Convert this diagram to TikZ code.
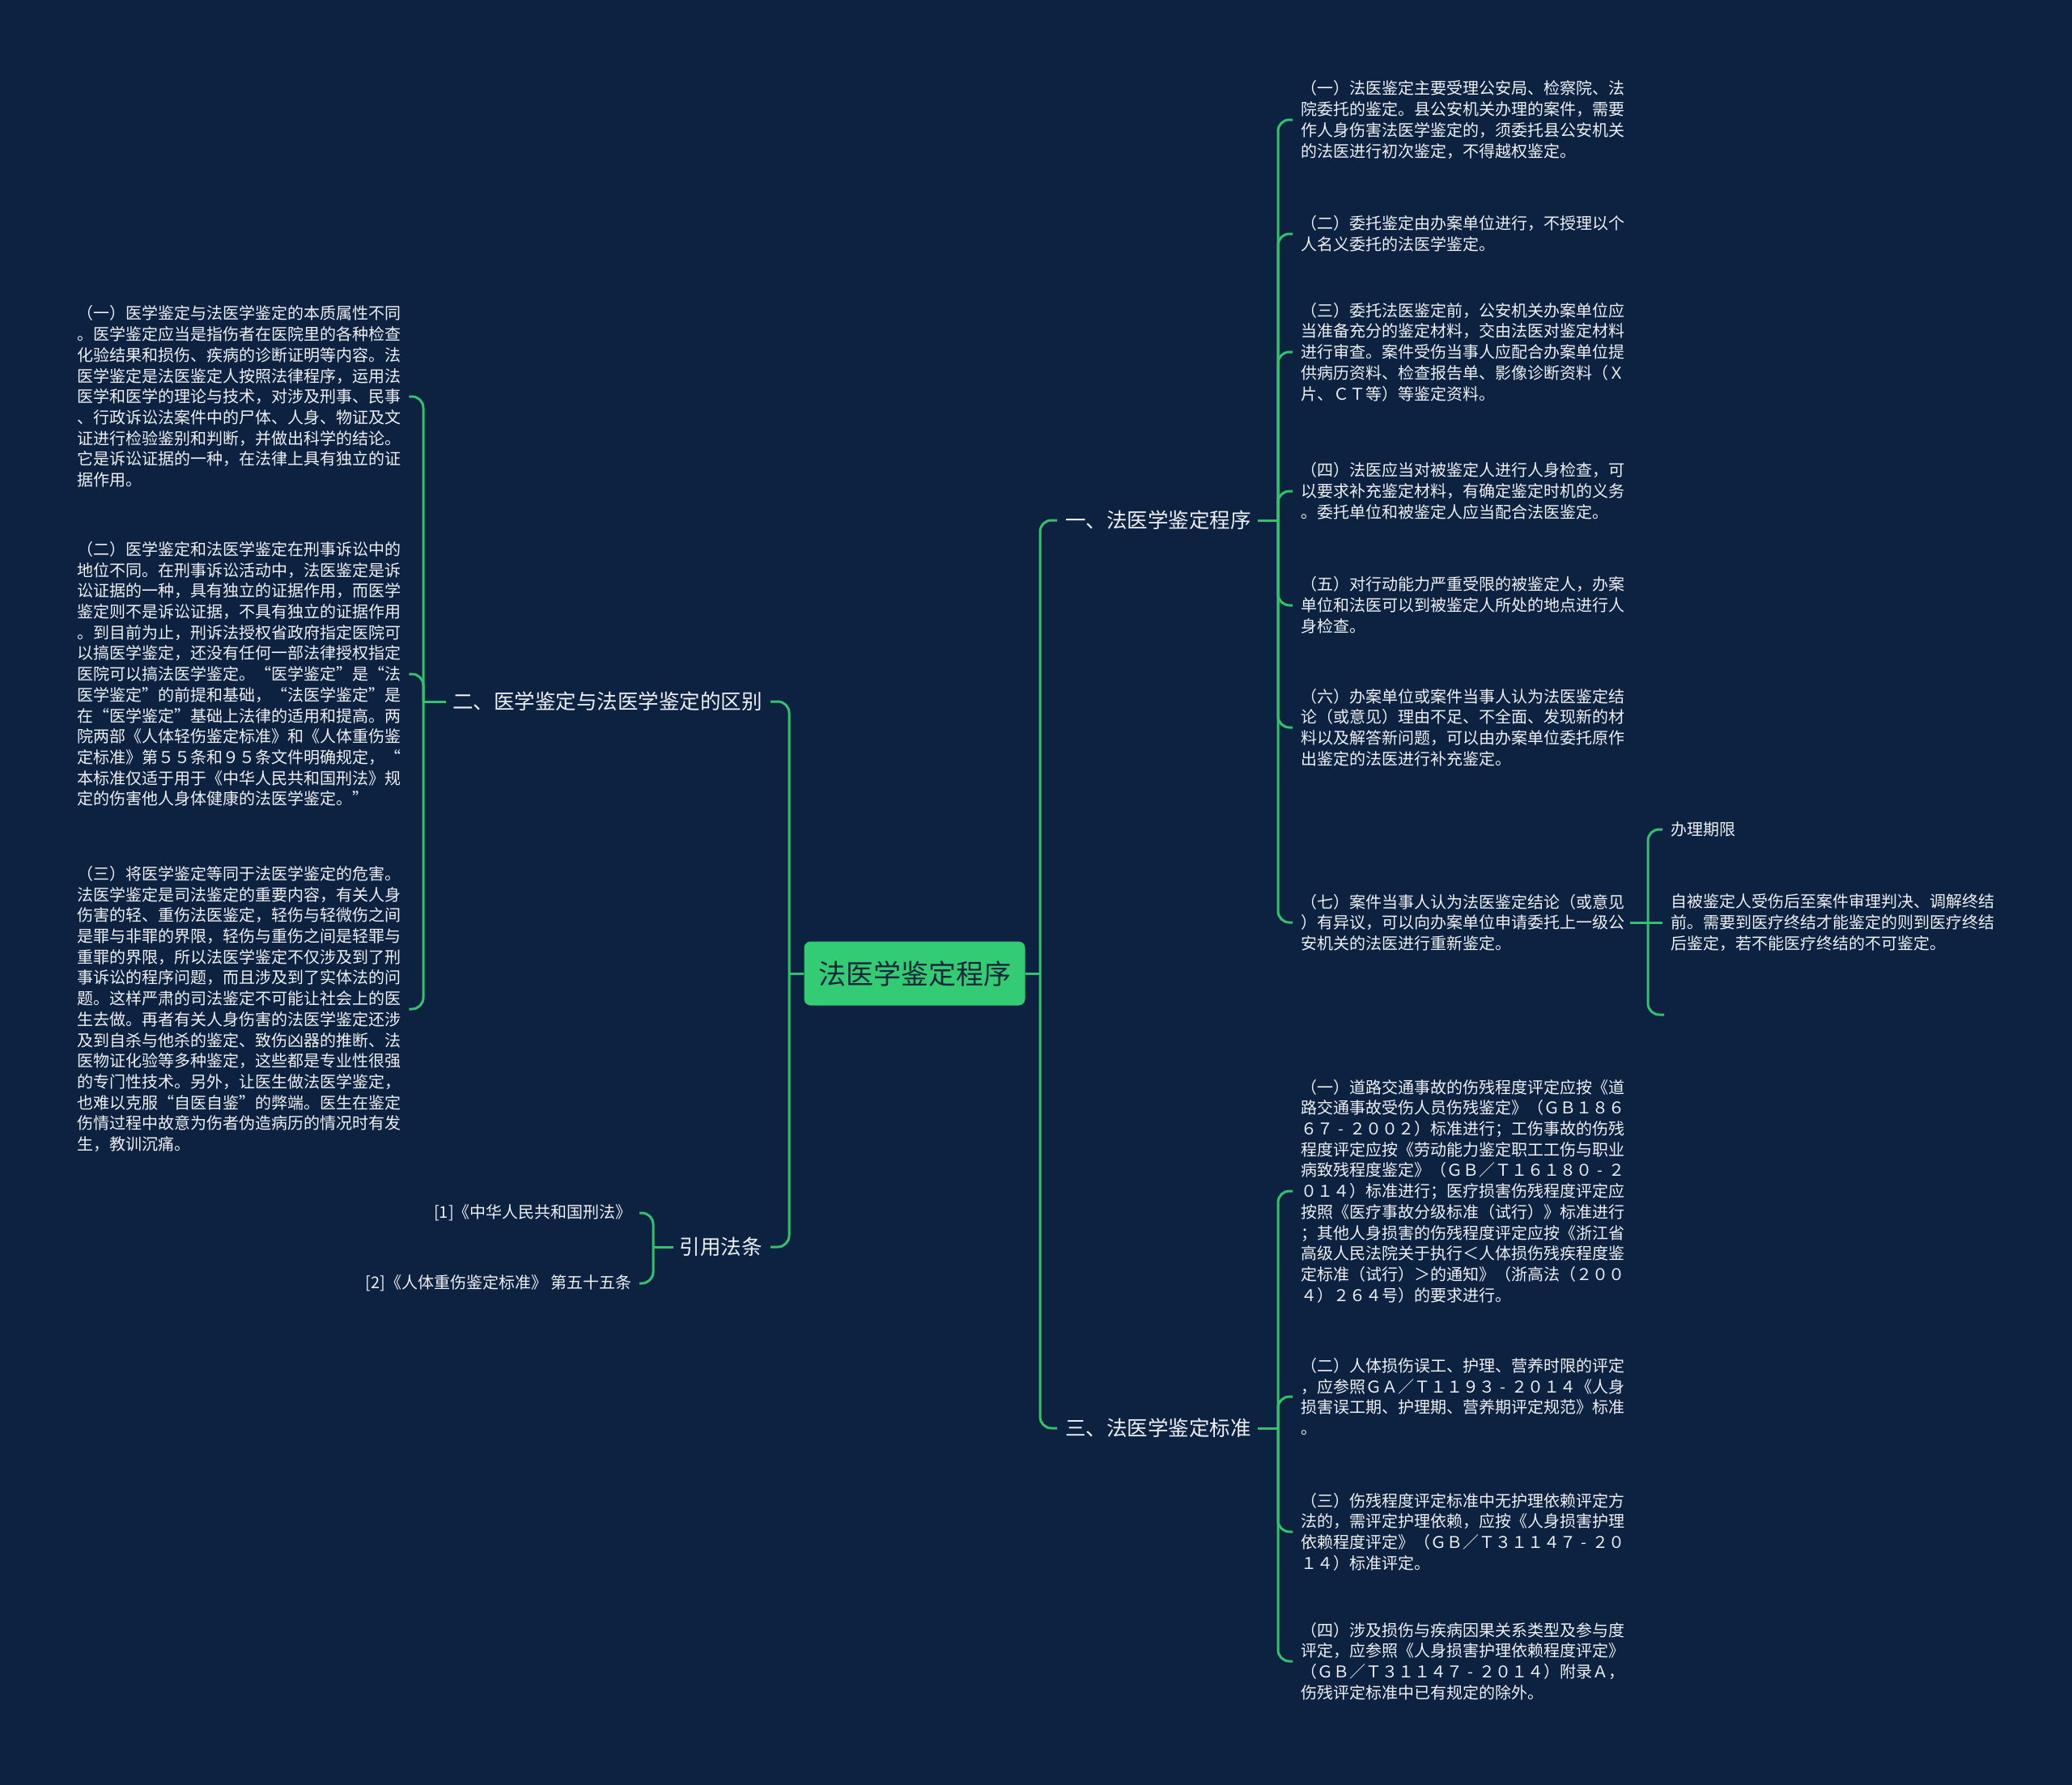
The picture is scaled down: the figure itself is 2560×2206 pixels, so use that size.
\documentclass[tikz,border=0pt]{standalone}
\usepackage{fontspec}
\setmainfont{Noto Sans CJK SC}
\usetikzlibrary{calc}
\definecolor{bg}{HTML}{0D2240}
\definecolor{gl}{HTML}{35C06F}
\definecolor{gf}{HTML}{33CC74}
\definecolor{tx}{HTML}{EEF0F3}
\definecolor{ctx}{HTML}{13263A}
\newcommand{\fh}{\makebox[1em]{-}}
\begin{document}
\begin{tikzpicture}[x=1pt,y=-1pt,
  conn/.style={draw=gl, line width=3pt, rounded corners=14pt},
  straight/.style={draw=gl, line width=3pt},
  small/.style={text=tx, font=\fontsize{20}{25.7}\selectfont, inner sep=0pt, align=left},
  blabel/.style={text=tx, font=\fontsize{25.5}{30}\selectfont, inner sep=0pt},
  rootbox/.style={fill=gf, rounded corners=8pt, minimum width=273pt, minimum height=79pt, inner sep=0pt, text=ctx, font=\fontsize{34}{40}\selectfont}]
\fill[bg] (0,0) rectangle (2560,2206);
\useasboundingbox (0,0) rectangle (2560,2206);

% root
\node[rootbox] (root) at (1130,1203) {法医学鉴定程序};

% branch labels
\node[blabel, anchor=west] (b1) at (1316,643) {一、法医学鉴定程序};
\node[blabel, anchor=west] (b3) at (1316,1765) {三、法医学鉴定标准};
\node[blabel, anchor=east] (b2) at (942,867) {二、医学鉴定与法医学鉴定的区别};
\node[blabel, anchor=east] (b4) at (942,1541) {引用法条};

% branch 1 children
\node[small, anchor=west] (a1) at (1607,148) {（一）法医鉴定主要受理公安局、检察院、法\\院委托的鉴定。县公安机关办理的案件，需要\\作人身伤害法医学鉴定的，须委托县公安机关\\的法医进行初次鉴定，不得越权鉴定。};
\node[small, anchor=west] (a2) at (1607,289) {（二）委托鉴定由办案单位进行，不授理以个\\人名义委托的法医学鉴定。};
\node[small, anchor=west] (a3) at (1607,435) {（三）委托法医鉴定前，公安机关办案单位应\\当准备充分的鉴定材料，交由法医对鉴定材料\\进行审查。案件受伤当事人应配合办案单位提\\供病历资料、检查报告单、影像诊断资料（Ｘ\\片、ＣＴ等）等鉴定资料。};
\node[small, anchor=west] (a4) at (1607,607) {（四）法医应当对被鉴定人进行人身检查，可\\以要求补充鉴定材料，有确定鉴定时机的义务\\。委托单位和被鉴定人应当配合法医鉴定。};
\node[small, anchor=west] (a5) at (1607,748) {（五）对行动能力严重受限的被鉴定人，办案\\单位和法医可以到被鉴定人所处的地点进行人\\身检查。};
\node[small, anchor=west] (a6) at (1607,899) {（六）办案单位或案件当事人认为法医鉴定结\\论（或意见）理由不足、不全面、发现新的材\\料以及解答新问题，可以由办案单位委托原作\\出鉴定的法医进行补充鉴定。};
\node[small, anchor=west] (a7) at (1607,1140) {（七）案件当事人认为法医鉴定结论（或意见\\）有异议，可以向办案单位申请委托上一级公\\安机关的法医进行重新鉴定。};

% sub children of (七)
\node[small, anchor=west] (p1) at (2064,1025) {办理期限};
\node[small, anchor=west] (p2) at (2064,1140) {自被鉴定人受伤后至案件审理判决、调解终结\\前。需要到医疗终结才能鉴定的则到医疗终结\\后鉴定，若不能医疗终结的不可鉴定。};
\coordinate (p3) at (2056,1254);

% branch 3 children
\node[small, anchor=west] (c1) at (1607,1472) {（一）道路交通事故的伤残程度评定应按《道\\路交通事故受伤人员伤残鉴定》（ＧＢ１８６\\６７\fh２００２）标准进行；工伤事故的伤残\\程度评定应按《劳动能力鉴定职工工伤与职业\\病致残程度鉴定》（ＧＢ／Ｔ１６１８０\fh２\\０１４）标准进行；医疗损害伤残程度评定应\\按照《医疗事故分级标准（试行）》标准进行\\；其他人身损害的伤残程度评定应按《浙江省\\高级人民法院关于执行＜人体损伤残疾程度鉴\\定标准（试行）＞的通知》（浙高法（２００\\４）２６４号）的要求进行。};
\node[small, anchor=west] (c2) at (1607,1726) {（二）人体损伤误工、护理、营养时限的评定\\，应参照ＧＡ／Ｔ１１９３\fh２０１４《人身\\损害误工期、护理期、营养期评定规范》标准\\。};
\node[small, anchor=west] (c3) at (1607,1893) {（三）伤残程度评定标准中无护理依赖评定方\\法的，需评定护理依赖，应按《人身损害护理\\依赖程度评定》（ＧＢ／Ｔ３１１４７\fh２０\\１４）标准评定。};
\node[small, anchor=west] (c4) at (1607,2053) {（四）涉及损伤与疾病因果关系类型及参与度\\评定，应参照《人身损害护理依赖程度评定》\\（ＧＢ／Ｔ３１１４７\fh２０１４）附录Ａ，\\伤残评定标准中已有规定的除外。};

% branch 2 children
\node[small, anchor=west] (l1) at (95,490) {（一）医学鉴定与法医学鉴定的本质属性不同\\。医学鉴定应当是指伤者在医院里的各种检查\\化验结果和损伤、疾病的诊断证明等内容。法\\医学鉴定是法医鉴定人按照法律程序，运用法\\医学和医学的理论与技术，对涉及刑事、民事\\、行政诉讼法案件中的尸体、人身、物证及文\\证进行检验鉴别和判断，并做出科学的结论。\\它是诉讼证据的一种，在法律上具有独立的证\\据作用。};
\node[small, anchor=west] (l2) at (95,833) {（二）医学鉴定和法医学鉴定在刑事诉讼中的\\地位不同。在刑事诉讼活动中，法医鉴定是诉\\讼证据的一种，具有独立的证据作用，而医学\\鉴定则不是诉讼证据，不具有独立的证据作用\\。到目前为止，刑诉法授权省政府指定医院可\\以搞医学鉴定，还没有任何一部法律授权指定\\医院可以搞法医学鉴定。“医学鉴定”是“法\\医学鉴定”的前提和基础，“法医学鉴定”是\\在“医学鉴定”基础上法律的适用和提高。两\\院两部《人体轻伤鉴定标准》和《人体重伤鉴\\定标准》第５５条和９５条文件明确规定，“\\本标准仅适于用于《中华人民共和国刑法》规\\定的伤害他人身体健康的法医学鉴定。”};
\node[small, anchor=west] (l3) at (95,1247) {（三）将医学鉴定等同于法医学鉴定的危害。\\法医学鉴定是司法鉴定的重要内容，有关人身\\伤害的轻、重伤法医鉴定，轻伤与轻微伤之间\\是罪与非罪的界限，轻伤与重伤之间是轻罪与\\重罪的界限，所以法医学鉴定不仅涉及到了刑\\事诉讼的程序问题，而且涉及到了实体法的问\\题。这样严肃的司法鉴定不可能让社会上的医\\生去做。再者有关人身伤害的法医学鉴定还涉\\及到自杀与他杀的鉴定、致伤凶器的推断、法\\医物证化验等多种鉴定，这些都是专业性很强\\的专门性技术。另外，让医生做法医学鉴定，\\也难以克服“自医自鉴”的弊端。医生在鉴定\\伤情过程中故意为伤者伪造病历的情况时有发\\生，教训沉痛。};

% branch 4 children
\node[small, anchor=east] (r1) at (781,1499) {[1]《中华人民共和国刑法》};
\node[small, anchor=east] (r2) at (781,1586) {[2]《人体重伤鉴定标准》 第五十五条};

% root connectors
\coordinate (rj) at (1285,1203);
\coordinate (lj) at (975,1203);
\draw[straight] (root.east) -- (rj);
\draw[straight] (root.west) -- (lj);
\draw[conn] (rj) |- ($(b1.west)+(-10,0)$);
\draw[conn] (rj) |- ($(b3.west)+(-10,0)$);
\draw[conn] (lj) |- ($(b2.east)+(10,0)$);
\draw[conn] (lj) |- ($(b4.east)+(10,0)$);

% bracket 1
\coordinate (k1) at (1579,643);
\draw[straight] ($(b1.east)+(8,0)$) -- (k1);
\foreach \c in {a1,a2,a3,a4,a5,a6,a7}{\draw[conn] (k1) |- ($(\c.west)+(-10,0)$);}

% bracket (七)
\coordinate (k7) at (2036,1140);
\draw[straight] ($(a7.east)+(7,0)$) -- (k7);
\draw[conn] (k7) |- ($(p1.west)+(-10,0)$);
\draw[straight] (k7) -- ($(p2.west)+(-10,0)$);
\draw[conn] (k7) |- (p3);

% bracket 3
\coordinate (k3) at (1579,1765);
\draw[straight] ($(b3.east)+(8,0)$) -- (k3);
\foreach \c in {c1,c2,c3,c4}{\draw[conn] (k3) |- ($(\c.west)+(-10,0)$);}

% bracket 2
\coordinate (k2) at (523,867);
\draw[straight] ($(b2.west)+(-8,0)$) -- (k2);
\foreach \c in {l1,l2,l3}{\draw[conn] (k2) |- ($(\c.east)+(10,0)$);}

% bracket 4
\coordinate (k4) at (807,1541);
\draw[straight] ($(b4.west)+(-8,0)$) -- (k4);
\foreach \c in {r1,r2}{\draw[conn] (k4) |- ($(\c.east)+(9,0)$);}
\end{tikzpicture}
\end{document}
